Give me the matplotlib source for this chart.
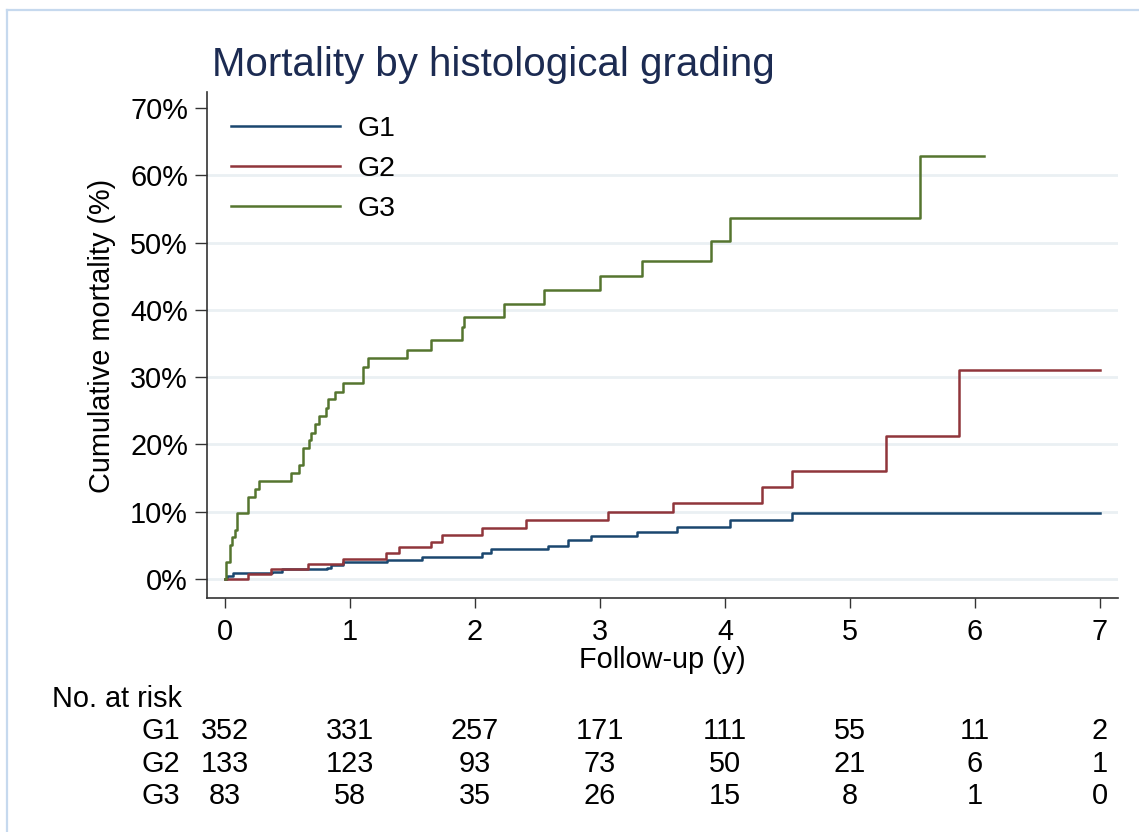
import matplotlib
matplotlib.use("Agg")
import matplotlib.pyplot as plt
from matplotlib.lines import Line2D
from matplotlib.transforms import blended_transform_factory

plt.rcParams['font.family'] = ['Liberation Sans', 'DejaVu Sans']

# step curves: time (years) and cumulative mortality (%)
g1_t = [0, 0.013, 0.067, 0.373, 0.453, 0.813, 0.848, 0.947, 1.293, 1.573, 2.053,
        2.125, 2.587, 2.745, 2.93, 3.294, 3.613, 4.043, 4.537, 7.0]
g1_y = [0, 0.45, 0.94, 1.1, 1.44, 1.7, 2.1, 2.6, 2.9, 3.3, 3.8,
        4.4, 4.9, 5.8, 6.4, 7.0, 7.7, 8.7, 9.85, 9.85]

g2_t = [0, 0.187, 0.368, 0.667, 0.947, 1.285, 1.392, 1.645, 1.733, 2.058, 2.41,
        3.066, 3.587, 4.296, 4.537, 5.29, 5.872, 7.0]
g2_y = [0, 0.74, 1.44, 2.3, 2.97, 3.9, 4.8, 5.5, 6.5, 7.6, 8.7,
        9.9, 11.3, 13.7, 16.1, 21.2, 31.1, 31.1]

g3_t = [0, 0.005, 0.04, 0.058, 0.078, 0.094, 0.186, 0.24, 0.274, 0.526, 0.594,
        0.622, 0.674, 0.688, 0.72, 0.752, 0.808, 0.826, 0.88, 0.946, 1.10,
        1.146, 1.454, 1.648, 1.896, 1.908, 2.235, 2.551, 3.0, 3.334, 3.89,
        4.04, 5.56, 6.07]
g3_y = [0, 2.5, 5.0, 6.3, 7.3, 9.8, 12.2, 13.4, 14.5, 15.7, 16.9,
        19.4, 20.6, 21.7, 23.1, 24.2, 25.4, 26.7, 27.8, 29.2, 31.5,
        32.8, 34.1, 35.5, 37.5, 38.9, 40.9, 42.9, 45.1, 47.3, 50.3,
        53.6, 62.9, 62.9]

groups = ['G1', 'G2', 'G3']
colors = ['#1a476f', '#90353b', '#55752f']

x_ticks = [0, 1, 2, 3, 4, 5, 6, 7]
y_ticks = [0, 10, 20, 30, 40, 50, 60, 70]
y_ticklabels = ['0%', '10%', '20%', '30%', '40%', '50%', '60%', '70%']

at_risk = {
    'G1': [352, 331, 257, 171, 111, 55, 11, 2],
    'G2': [133, 123, 93, 73, 50, 21, 6, 1],
    'G3': [83, 58, 35, 26, 15, 8, 1, 0],
}

FS = 20.8
W, H = 1139, 832
fig = plt.figure(figsize=(W / 100, H / 100), dpi=100)
fig.patch.set_facecolor('white')

ax = fig.add_axes([207 / W, 1 - 598 / H, (1118 - 207) / W, (598 - 92) / H])
ax.set_xlim(-0.144, 7.144)
ax.set_ylim(-2.82, 72.38)

for t, y, c, lab in zip([g1_t, g2_t, g3_t], [g1_y, g2_y, g3_y], colors, groups):
    ax.step(t, y, where='post', color=c, lw=1.8, label=lab, zorder=3)

# gridlines (none at the top tick)
for v in y_ticks[:-1]:
    ax.axhline(v, color='#eaf0f3', lw=2, zorder=1)

ax.set_xticks(x_ticks)
ax.set_yticks(y_ticks)
ax.set_yticklabels(y_ticklabels)
ax.tick_params(axis='y', length=8.6, width=1, color='#333333', pad=5, labelsize=FS)
ax.tick_params(axis='x', length=7.2, width=1, color='#333333', pad=7, labelsize=FS)
for s in ['top', 'right']:
    ax.spines[s].set_visible(False)
for s in ['left', 'bottom']:
    ax.spines[s].set_color('#333333')
    ax.spines[s].set_linewidth(1.2)

leg = ax.legend(loc='upper left', bbox_to_anchor=(0.0, 1.0), frameon=False,
                fontsize=20.5, handlelength=3.83, handletextpad=0.6,
                labelspacing=0.48, borderaxespad=0.45)

fig.text(212 / W, 1 - 76 / H, 'Mortality by histological grading', fontsize=29,
         color='#1c2b52', ha='left', va='baseline')
fig.text(102 / W, 1 - 336 / H, 'Cumulative mortality (%)', fontsize=FS,
         rotation=90, ha='center', va='center')
fig.text(662.5 / W, 1 - 668 / H, 'Follow-up (y)', fontsize=FS,
         ha='center', va='baseline')

# number at risk table
fig.text(52 / W, 1 - 706.7 / H, 'No. at risk', fontsize=FS, ha='left', va='baseline')
tr = blended_transform_factory(ax.transData, fig.transFigure)
row_base = [739.3, 771.7, 804.3]
for g, yb in zip(groups, row_base):
    fig.text(180 / W, 1 - yb / H, g, fontsize=FS, ha='right', va='baseline')
    for xv, n in zip(x_ticks, at_risk[g]):
        ax.text(xv, 1 - yb / H, str(n), fontsize=FS, ha='center', va='baseline',
                transform=tr, clip_on=False)

# light blue outer frame (left and top edges)
fig.add_artist(Line2D([7 / W, 7 / W], [0, 1 - 10 / H], transform=fig.transFigure,
                      color='#c6d9ee', lw=1.6))
fig.add_artist(Line2D([7 / W, 1], [1 - 10 / H, 1 - 10 / H], transform=fig.transFigure,
                      color='#c6d9ee', lw=1.6))

fig.savefig('out.png', dpi=100, facecolor='white')
